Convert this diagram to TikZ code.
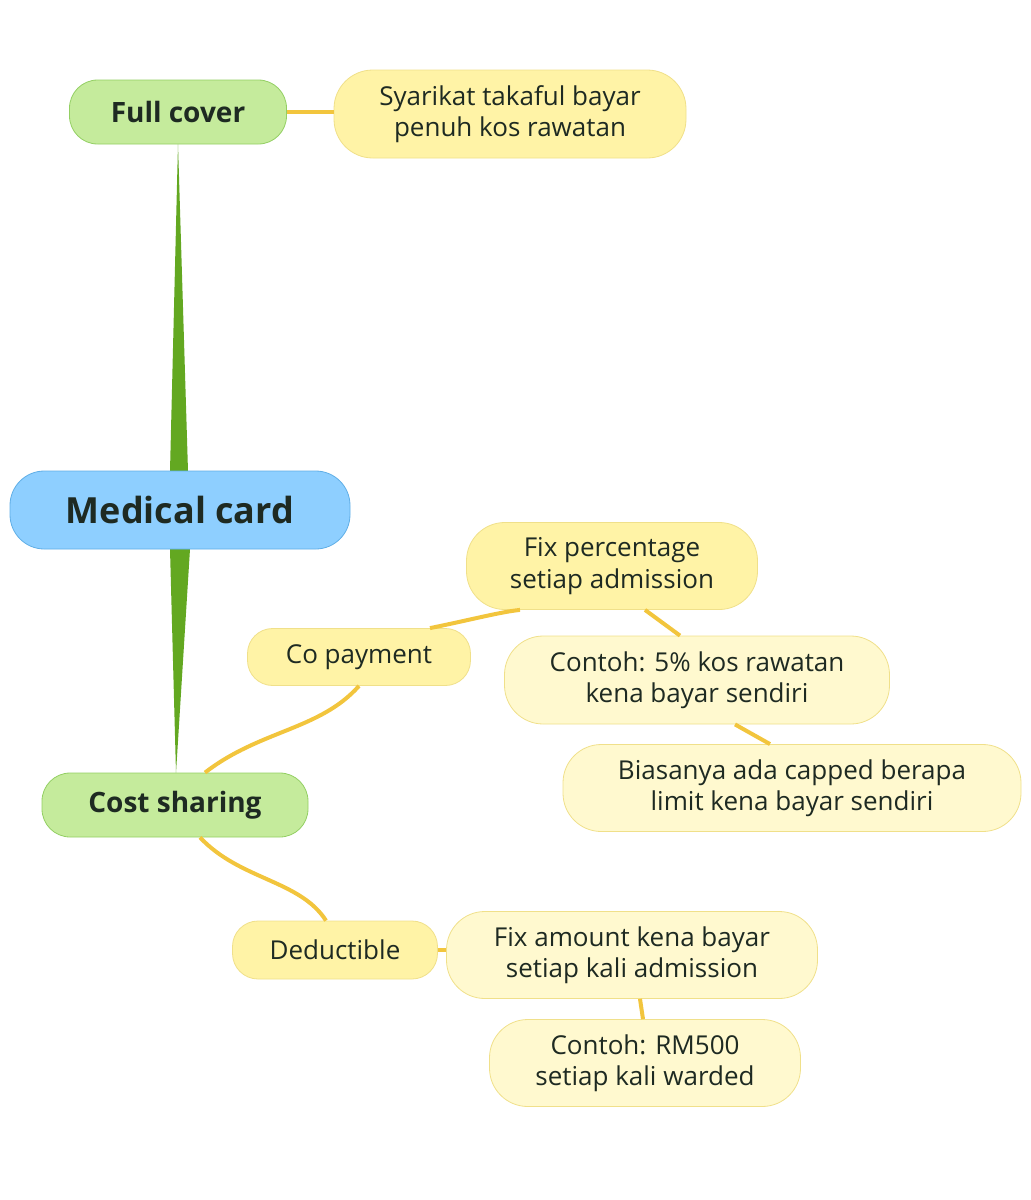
\documentclass[tikz,border=0pt]{standalone}
\usepackage{fontspec}
\setmainfont{Open Sans}
\begin{document}
\begin{tikzpicture}[x=0.75pt,y=-0.75pt,
 sz/.style 2 args={minimum width=#1*0.75pt,minimum height=#2*0.75pt,rounded corners=#2*0.33pt},
 box/.style={align=center,inner sep=0pt,line width=0.6pt,text=tx},
 gr/.style={box,fill=gfill,draw=gdraw,font=\fontsize{21}{25}\selectfont\bfseries},
 y1/.style={box,fill=y1f,draw=yd,font=\fontsize{19.5}{23.5}\selectfont},
 y2/.style={box,fill=y2f,draw=yd,font=\fontsize{19.5}{23.5}\selectfont}]
\definecolor{tx}{HTML}{1E2A22}
\definecolor{gfill}{HTML}{C5EB9C}\definecolor{gdraw}{HTML}{93CF63}
\definecolor{bfill}{HTML}{8ECFFF}\definecolor{bdraw}{HTML}{5FAEE6}
\definecolor{lk}{HTML}{F2C53D}\definecolor{gl}{HTML}{63A821}
\definecolor{y1f}{HTML}{FFF3A6}\definecolor{y2f}{HTML}{FFF9CF}\definecolor{yd}{HTML}{F0E08A}
\useasboundingbox (0,0) rectangle (1031,1200);
% green tapered links
\fill[gl] (170,471) -- (188,471) -- (178,144) -- cycle;
\fill[gl] (170,549) -- (190,549) -- (176,773) -- cycle;
% nodes
\node[gr,sz={217}{64}] (full) at (178,112) {Full cover};
\node[y1,sz={352}{88}] (sy) at (510,114) {Syarikat takaful bayar\\penuh kos rawatan};
\node[box,fill=bfill,draw=bdraw,sz={340}{78},font=\fontsize{27}{32}\selectfont\bfseries] (mc) at (180,510) {Medical card};
\node[gr,sz={266}{64}] (cs) at (175,805) {Cost sharing};
\node[y1,sz={223}{57}] (cp) at (359,657) {Co payment};
\node[y1,sz={291}{87}] (fp) at (612,566) {Fix percentage\\setiap admission};
\node[y2,sz={385}{88}] (c5) at (697,680) {Contoh: 5\% kos rawatan\\kena bayar sendiri};
\node[y2,sz={458}{87}] (bi) at (792,788) {Biasanya ada capped berapa\\limit kena bayar sendiri};
\node[y1,sz={205}{58}] (de) at (335,950) {Deductible};
\node[y2,sz={371}{87}] (fa) at (632,955) {Fix amount kena bayar\\setiap kali admission};
\node[y2,sz={311}{87}] (rm) at (645,1063) {Contoh: RM500\\setiap kali warded};
% yellow links
\begin{scope}[lk,line width=3pt]
\draw (full.east) -- (sy.west |- full.east);
\draw ([xshift=30*0.75pt]cs.north) .. controls (260,730) and (320,730) .. (cp.south);
\draw ([xshift=25*0.75pt]cs.south) .. controls (240,880) and (300,880) .. ([xshift=-9*0.75pt]de.north);
\draw ([xshift=71*0.75pt]cp.north) .. controls (470,620) and (500,612) .. ([xshift=-92*0.75pt]fp.south);
\draw ([xshift=33*0.75pt]fp.south) -- ([xshift=-17*0.75pt]c5.north);
\draw ([xshift=38*0.75pt]c5.south) -- ([xshift=-22*0.75pt]bi.north);
\draw (de.east) -- (fa.west |- de.east);
\draw ([xshift=8*0.75pt]fa.south) -- ([xshift=-2*0.75pt]rm.north);
\end{scope}
\end{tikzpicture}
\end{document}
